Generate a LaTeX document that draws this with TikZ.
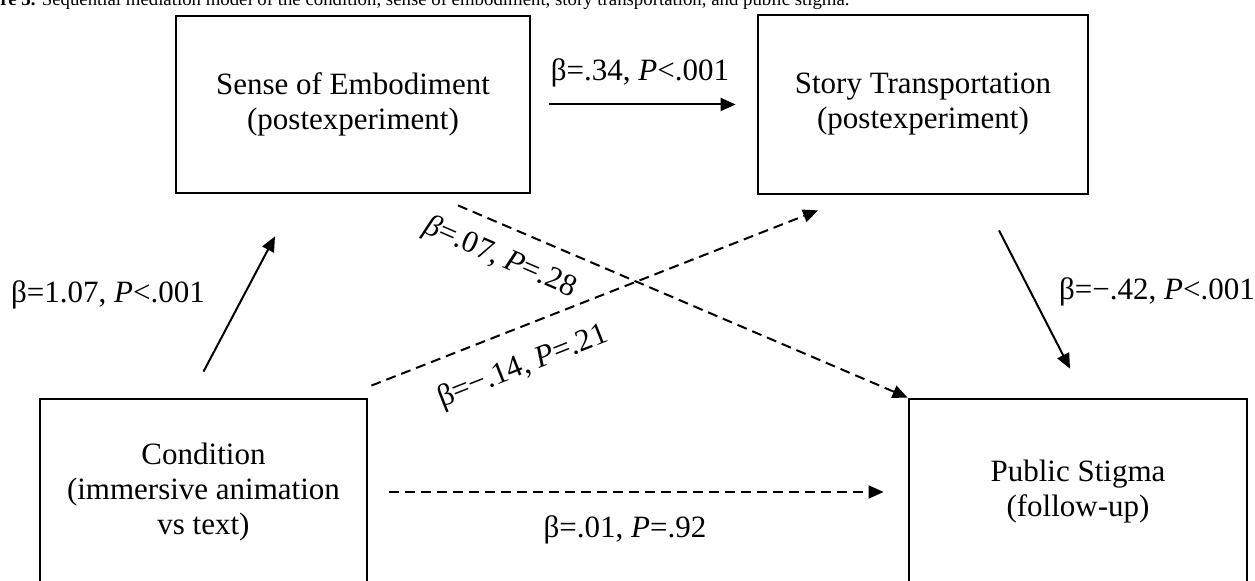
\documentclass[tikz,border=0pt]{standalone}
\usepackage{fontspec}
\setmainfont{Liberation Serif}
\usetikzlibrary{
    arrows.meta,
    positioning,
    calc,
}

\begin{document}
\begin{tikzpicture}[x=0.5pt, y=-0.5pt,
        varbox/.style={draw, line width=1.4pt, align=center, inner sep=0pt,
            font=\fontsize{15.5}{17.5}\selectfont},
        link/.style={line width=1pt, -{Triangle[length=7.5pt, width=6.5pt]}},
        nslink/.style={link, dash pattern=on 5pt off 3pt},
        coef/.style={inner sep=0pt, font=\fontsize{15.5}{17.5}\selectfont}]
        \useasboundingbox (0,0) rectangle (1255,581);
        \clip (0,0) rectangle (1255,581);
        \node[anchor=base west, inner sep=0pt, font=\fontsize{9.4}{11}\selectfont] (caption) at (0,6)
            {\textbf{re 3.} Sequential mediation model of the condition, sense of embodiment, story transportation, and public stigma.};
        \node[varbox, minimum width=177pt, minimum height=88.5pt] (emb) at (353,104.5)
            {Sense of Embodiment\\(postexperiment)};
        \node[varbox, minimum width=165pt, minimum height=89.5pt] (story) at (923,104.5)
            {Story Transportation\\(postexperiment)};
        \node[varbox, minimum width=163.5pt, minimum height=93pt] (cond) at (203.5,492)
            {Condition\\(immersive animation\\vs text)};
        \node[varbox, minimum width=169pt, minimum height=93pt] (stigma) at (1078,492)
            {Public Stigma\\(follow-up)};
        \draw[link] ([yshift=13pt]cond.north) -- ([xshift=-39pt,yshift=-21pt]emb.south);
        \draw[link, shorten <=9pt, shorten >=10.5pt] (emb.east) -- (story.west);
        \draw[link] ([xshift=38pt,yshift=-17.5pt]story.south) -- ([xshift=-4pt,yshift=14.5pt]stigma.north);
        \draw[nslink] ([xshift=52.5pt,yshift=-5.5pt]emb.south) -- (stigma.north west);
        \draw[nslink] ([xshift=1.5pt,yshift=6pt]cond.north east) -- ([xshift=-52.5pt,yshift=-7.5pt]story.south);
        \draw[nslink, shorten <=10.5pt, shorten >=12pt] (cond.east) -- (stigma.west);
        \node[coef] (b34) at (640,73) {β=.34, \textit{P}<.001};
        \node[coef] (b107) at (108,295) {β=1.07, \textit{P}<.001};
        \node[coef] (b42) at (1157,292) {β=−.42, \textit{P}<.001};
        \node[coef] (b07) at (500,258) [rotate=-23.4] {\textit{β}=.07, \textit{P}=.28};
        \node[coef] (b14) at (523,367) [rotate=21.6] {β=−.14, \textit{P}=.21};
        \node[coef] (b01) at (625,530) {β=.01, \textit{P}=.92};
    \end{tikzpicture}
\end{document}
